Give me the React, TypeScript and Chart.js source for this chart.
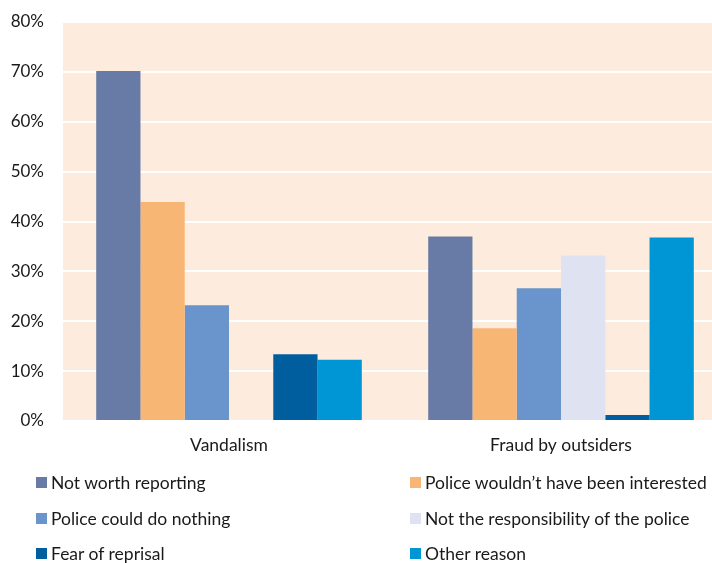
import React, { useEffect, useRef } from "react";
import { Chart, registerables } from "chart.js";

Chart.register(...registerables);

const categories = ["Vandalism", "Fraud by outsiders"];
const seriesNames = [
  "Not worth reporting",
  "Police wouldn\u2019t have been interested",
  "Police could do nothing",
  "Not the responsibility of the police",
  "Fear of reprisal",
  "Other reason",
];
const notWorthReporting = [70.2, 37.0];
const policeNotInterested = [43.9, 18.6];
const policeCouldDoNothing = [23.2, 26.6];
const notResponsibility = [null, 33.2];
const fearOfReprisal = [13.4, 1.2];
const otherReason = [12.3, 36.8];
const seriesValues = [
  notWorthReporting,
  policeNotInterested,
  policeCouldDoNothing,
  notResponsibility,
  fearOfReprisal,
  otherReason,
];
const seriesColors = ["#687BA6", "#F8B674", "#6A94CC", "#DFE2F1", "#005E9E", "#0096D6"];
const yTicks = [0, 10, 20, 30, 40, 50, 60, 70, 80];

const FONT = "Lato, 'Open Sans', sans-serif";

const bgPlugin = {
  id: "plotBg",
  beforeDraw(chart: any) {
    const { ctx, chartArea } = chart;
    ctx.save();
    ctx.fillStyle = "#FDEBDD";
    ctx.fillRect(chartArea.left, chartArea.top, chartArea.right - chartArea.left, chartArea.bottom - chartArea.top);
    ctx.restore();
  },
};

export default function App() {
  const ref = useRef<HTMLCanvasElement>(null);
  useEffect(() => {
    if (!ref.current) return;
    const chart = new Chart(ref.current, {
      type: "bar",
      data: {
        labels: categories,
        datasets: seriesNames.map((name, i) => ({
          label: name,
          data: seriesValues[i] as any,
          backgroundColor: seriesColors[i],
          borderWidth: 0,
          categoryPercentage: 0.8,
          barPercentage: 1.0,
        })),
      },
      options: {
        responsive: false,
        animation: false,
        devicePixelRatio: 1,
        layout: { padding: { top: 22, right: 8, bottom: 102, left: 0 } },
        plugins: { legend: { display: false }, tooltip: { enabled: false } },
        scales: {
          x: {
            grid: { display: false, drawTicks: false },
            border: { display: false },
            ticks: { color: "#1a1a1a", font: { family: FONT, size: 17.5 }, padding: 14 },
            afterFit(scale: any) {
              scale.height = 40;
              scale.paddingLeft = 0;
              scale.paddingRight = 0;
            },
          },
          y: {
            min: 0,
            max: 80,
            afterBuildTicks(scale: any) {
              scale.ticks = yTicks.map((v) => ({ value: v }));
            },
            grid: { color: "#FFFFFF", lineWidth: 2, drawTicks: false },
            border: { display: false },
            ticks: {
              color: "#1a1a1a",
              font: { family: FONT, size: 17 },
              padding: 19,
              callback: (v: any) => v + "%",
            },
            afterFit(scale: any) {
              scale.width = 63;
              scale.paddingTop = 0;
              scale.paddingBottom = 0;
            },
          },
        },
      },
      plugins: [bgPlugin],
    });
    return () => chart.destroy();
  }, []);

  const legendPos = [
    { x: 36, y: 482 },
    { x: 410, y: 482 },
    { x: 36, y: 518 },
    { x: 410, y: 518 },
    { x: 36, y: 553 },
    { x: 410, y: 553 },
  ];

  return (
    <div
      style={{
        position: "fixed",
        left: 0,
        top: 0,
        width: 712,
        height: 563,
        overflow: "hidden",
        background: "#fff",
      }}
    >
      <canvas ref={ref} width={735} height={563} style={{ display: "block", width: 735, height: 563 }} />
      {seriesNames.map((name, i) => (
        <div
          key={name}
          style={{
            position: "absolute",
            left: legendPos[i].x,
            top: legendPos[i].y - 11,
            height: 22,
            display: "flex",
            alignItems: "center",
            fontFamily: FONT,
            fontSize: 17.5,
            color: "#1a1a1a",
            whiteSpace: "nowrap",
          }}
        >
          <span
            style={{
              display: "inline-block",
              width: 11,
              height: 11,
              background: seriesColors[i],
              marginRight: 4,
            }}
          />
          {name}
        </div>
      ))}
    </div>
  );
}
